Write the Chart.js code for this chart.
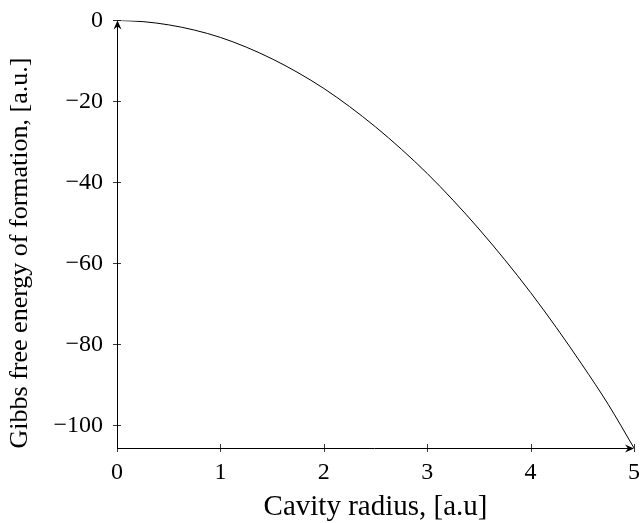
<!DOCTYPE html>
<html>
<head>
<meta charset="utf-8">
<script src="https://cdn.jsdelivr.net/npm/chart.js@4.4.1/dist/chart.umd.min.js"></script>
<style>
  html, body { margin: 0; padding: 0; background: #fff; }
  #wrap { width: 642px; height: 523px; }
</style>
</head>
<body>
<div id="wrap"><canvas id="c" width="642" height="523"></canvas></div>
<script>
// Data
const radius = [0, 0.25, 0.5, 0.75, 1, 1.25, 1.5, 1.75, 2, 2.25, 2.5, 2.75, 3, 3.25, 3.5, 3.75, 4, 4.25, 4.5, 4.75, 5];
const gibbs  = [0, -0.3, -1.1, -2.4, -4.2, -6.6, -9.5, -12.9, -16.8, -21.3, -26.3, -31.8, -37.8, -44.4, -51.5, -59.1, -67.2, -75.9, -85.1, -94.8, -105.6];
const xTicks = [0, 1, 2, 3, 4, 5];
const yTicks = [0, -20, -40, -60, -80, -100];
const xTitle = 'Cavity radius, [a.u]';
const yTitle = 'Gibbs free energy of formation, [a.u.]';

const FONT = '"Liberation Serif", "Times New Roman", serif';

const axesPlugin = {
  id: 'pgfAxes',
  afterDraw(chart) {
    const ctx = chart.ctx;
    const xs = chart.scales.x, ys = chart.scales.y;
    const x0 = xs.getPixelForValue(xs.min);
    const x1 = xs.getPixelForValue(xs.max);
    const yb = ys.getPixelForValue(ys.min);
    const yt = ys.getPixelForValue(0);
    ctx.save();
    ctx.strokeStyle = '#000';
    ctx.fillStyle = '#000';
    ctx.lineWidth = 1;
    // axis lines
    ctx.beginPath();
    ctx.moveTo(x0 + 0.5, yb);
    ctx.lineTo(x0 + 0.5, yt + 2);
    ctx.moveTo(x0, yb + 0.5);
    ctx.lineTo(x1 - 2, yb + 0.5);
    ctx.stroke();
    // tick marks
    ctx.lineWidth = 0.8;
    ctx.beginPath();
    yTicks.forEach(v => {
      const p = Math.round(ys.getPixelForValue(v)) + 0.5;
      ctx.moveTo(x0 - 4, p); ctx.lineTo(x0 + 4, p);
    });
    xTicks.forEach(v => {
      const p = Math.round(xs.getPixelForValue(v)) + 0.5;
      ctx.moveTo(p, yb - 4); ctx.lineTo(p, yb + 4);
    });
    ctx.stroke();
    // arrowheads (stealth-like)
    function arrow(tx, ty, dx, dy) {
      const L = 9, W = 4, N = 3;
      const px = -dy, py = dx;
      ctx.beginPath();
      ctx.moveTo(tx, ty);
      ctx.lineTo(tx - dx * L + px * W, ty - dy * L + py * W);
      ctx.lineTo(tx - dx * (L - N), ty - dy * (L - N));
      ctx.lineTo(tx - dx * L - px * W, ty - dy * L - py * W);
      ctx.closePath();
      ctx.fill();
    }
    arrow(x0 + 0.5, yt, 0, -1);
    arrow(x1, yb + 0.5, 1, 0);
    // y-axis title
    ctx.translate(20, 253);
    ctx.rotate(-Math.PI / 2);
    ctx.font = '26px ' + FONT;
    ctx.textAlign = 'center';
    ctx.textBaseline = 'middle';
    ctx.fillText(yTitle, 0, 0);
    ctx.restore();
  }
};

const fmt = v => (v < 0 ? '\u2212' + Math.abs(v) : String(v));

new Chart(document.getElementById('c'), {
  type: 'line',
  data: {
    datasets: [{
      data: radius.map((r, i) => ({ x: r, y: gibbs[i] })),
      borderColor: '#000',
      borderWidth: 1,
      pointRadius: 0,
      fill: false,
      cubicInterpolationMode: 'monotone'
    }]
  },
  options: {
    responsive: false,
    animation: false,
    events: [],
    layout: { padding: { top: 10, right: 2, left: 0, bottom: 0 } },
    plugins: { legend: { display: false }, tooltip: { enabled: false } },
    scales: {
      x: {
        type: 'linear',
        min: 0, max: 5,
        grid: { display: false },
        border: { display: false },
        afterBuildTicks: s => { s.ticks = xTicks.map(v => ({ value: v })); },
        afterFit: s => { s.height = 75; },
        ticks: {
          color: '#000', padding: 2, maxRotation: 0,
          font: { family: FONT, size: 24 },
          callback: fmt
        },
        title: {
          display: true, text: xTitle, color: '#000',
          font: { family: FONT, size: 29, lineHeight: 1.05 },
          padding: { top: 0, bottom: 0 }
        }
      },
      y: {
        type: 'linear',
        min: -105.6, max: 0,
        grid: { display: false },
        border: { display: false },
        afterBuildTicks: s => { s.ticks = yTicks.map(v => ({ value: v })); },
        afterFit: s => { s.width = 117; },
        ticks: {
          color: '#000', padding: 6,
          font: { family: FONT, size: 24 },
          callback: fmt
        },
        title: { display: false }
      }
    }
  },
  plugins: [axesPlugin]
});
</script>
</body>
</html>
